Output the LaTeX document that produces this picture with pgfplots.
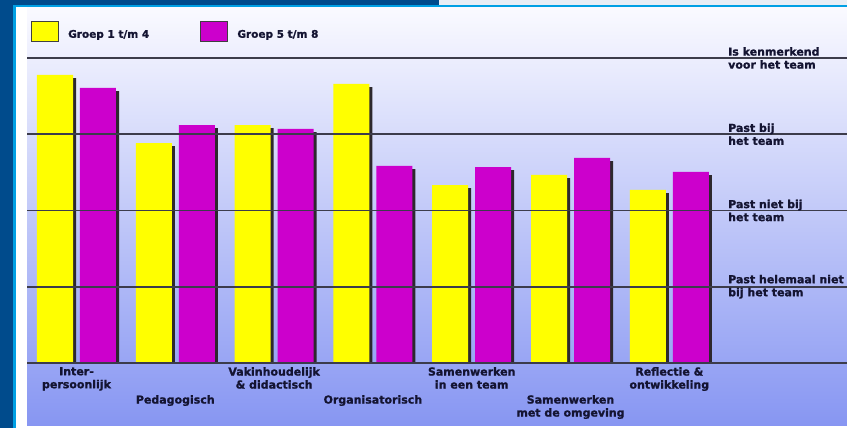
\documentclass[border=0pt]{standalone}
\usepackage{pgfplots}
\pgfplotsset{compat=1.18}
\usepackage{pgfplotstable}
\usepackage{fontspec}
\setmainfont{DejaVu Sans}[BoldFeatures={FakeBold=1.2}]
\definecolor{darkblue}{RGB}{0,75,140}
\definecolor{lightblue}{RGB}{0,160,228}
\definecolor{topgrey}{RGB}{232,238,245}
\definecolor{paneltop}{RGB}{250,250,255}
\definecolor{panelbot}{RGB}{135,150,242}
\definecolor{barY}{RGB}{255,255,0}
\definecolor{barM}{RGB}{204,0,204}
\definecolor{shadowc}{RGB}{45,40,45}
\definecolor{txt}{RGB}{20,20,50}
\definecolor{rulec}{RGB}{60,60,75}

\pgfplotsset{lgbox/.style={legend image code/.code={\draw[##1,/tikz/.cd,draw=black!75,line width=1.2bp] (0bp,-7bp) rectangle (27bp,13bp);}}}

\pgfplotstableread{
g y m
0 3.777 3.607
1 2.885 3.121
2 3.121 3.069
3 3.659 2.584
4 2.334 2.570
5 2.466 2.689
6 2.269 2.505
}\data

\begin{document}
\begin{tikzpicture}
\useasboundingbox (0,0) rectangle (847bp,428bp);
\begin{scope}[x=1bp,y=1bp]
\fill[white] (0,0) rectangle (847,428);
\fill[darkblue] (0,0) rectangle (13,428);
\fill[darkblue] (0,423) rectangle (439,428);
\fill[topgrey] (439,423) rectangle (847,428);
\fill[lightblue] (13,0) rectangle (15.5,423);
\fill[lightblue] (13,420.5) rectangle (847,423);
\shade[top color=paneltop, bottom color=panelbot] (27,2) rectangle (847,420.5);
\end{scope}
\begin{axis}[
  at={(27bp,65bp)}, anchor=south west,
  scale only axis, width=820bp, height=353bp,
  xmin=-0.5010, xmax=7.7986, ymin=0, ymax=4.6295,
  axis line style={draw=none},
  major tick length=0pt,
  axis on top,
  ymajorgrids, grid style={draw=rulec, line width=1.6bp},
  ytick={0,1,2,3,4},
  yticklabels={,{Past helemaal niet\\bij het team},{Past niet bij\\het team},{Past bij\\het team},{Is kenmerkend\\voor het team}},
  yticklabel pos=right,
  yticklabel style={anchor=west, align=left, inner sep=0pt, xshift=-119bp},
  xtick={0,2,4,6},
  xticklabels={{Inter-\\persoonlijk},{Vakinhoudelijk\\\& didactisch},{Samenwerken\\in een team},{Reflectie \&\\ontwikkeling}},
  xticklabel style={anchor=north, align=center, inner sep=0pt, yshift=-4bp},
  extra x ticks={1,3,5},
  extra x tick labels={Pedagogisch,Organisatorisch,{Samenwerken\\met de omgeving}},
  extra x tick style={grid=none, xticklabel style={yshift=-28bp}},
  tick label style={font=\fontsize{11bp}{13bp}\selectfont\bfseries, text=txt},
  legend columns=2,
  legend style={at={(0.00488,0.9688)}, anchor=north west, draw=none, fill=none,
    inner sep=0pt, outer sep=0pt,
    nodes={inner sep=0pt, font=\fontsize{10.5bp}{13bp}\selectfont\bfseries, text=txt},
    /tikz/every odd column/.style={column sep=9bp}},
]
\addplot[ybar, bar width=0.3644, bar shift=-0.1872, fill=shadowc, draw=none, forget plot] table[x=g, y expr=\thisrow{y}-0.04]{\data};
\addplot[ybar, bar width=0.3644, bar shift=0.2480, fill=shadowc, draw=none, forget plot] table[x=g, y expr=\thisrow{m}-0.04]{\data};
\addplot[ybar, bar width=0.3644, bar shift=-0.2176, fill=barY, draw=none, lgbox] table[x=g,y=y]{\data};
\addplot[ybar, bar width=0.3644, bar shift=0.2176, fill=barM, draw=none, lgbox] table[x=g,y=m]{\data};
\legend{\makebox[132bp][l]{Groep 1 t/m 4},Groep 5 t/m 8}
\end{axis}
\end{tikzpicture}
\end{document}
